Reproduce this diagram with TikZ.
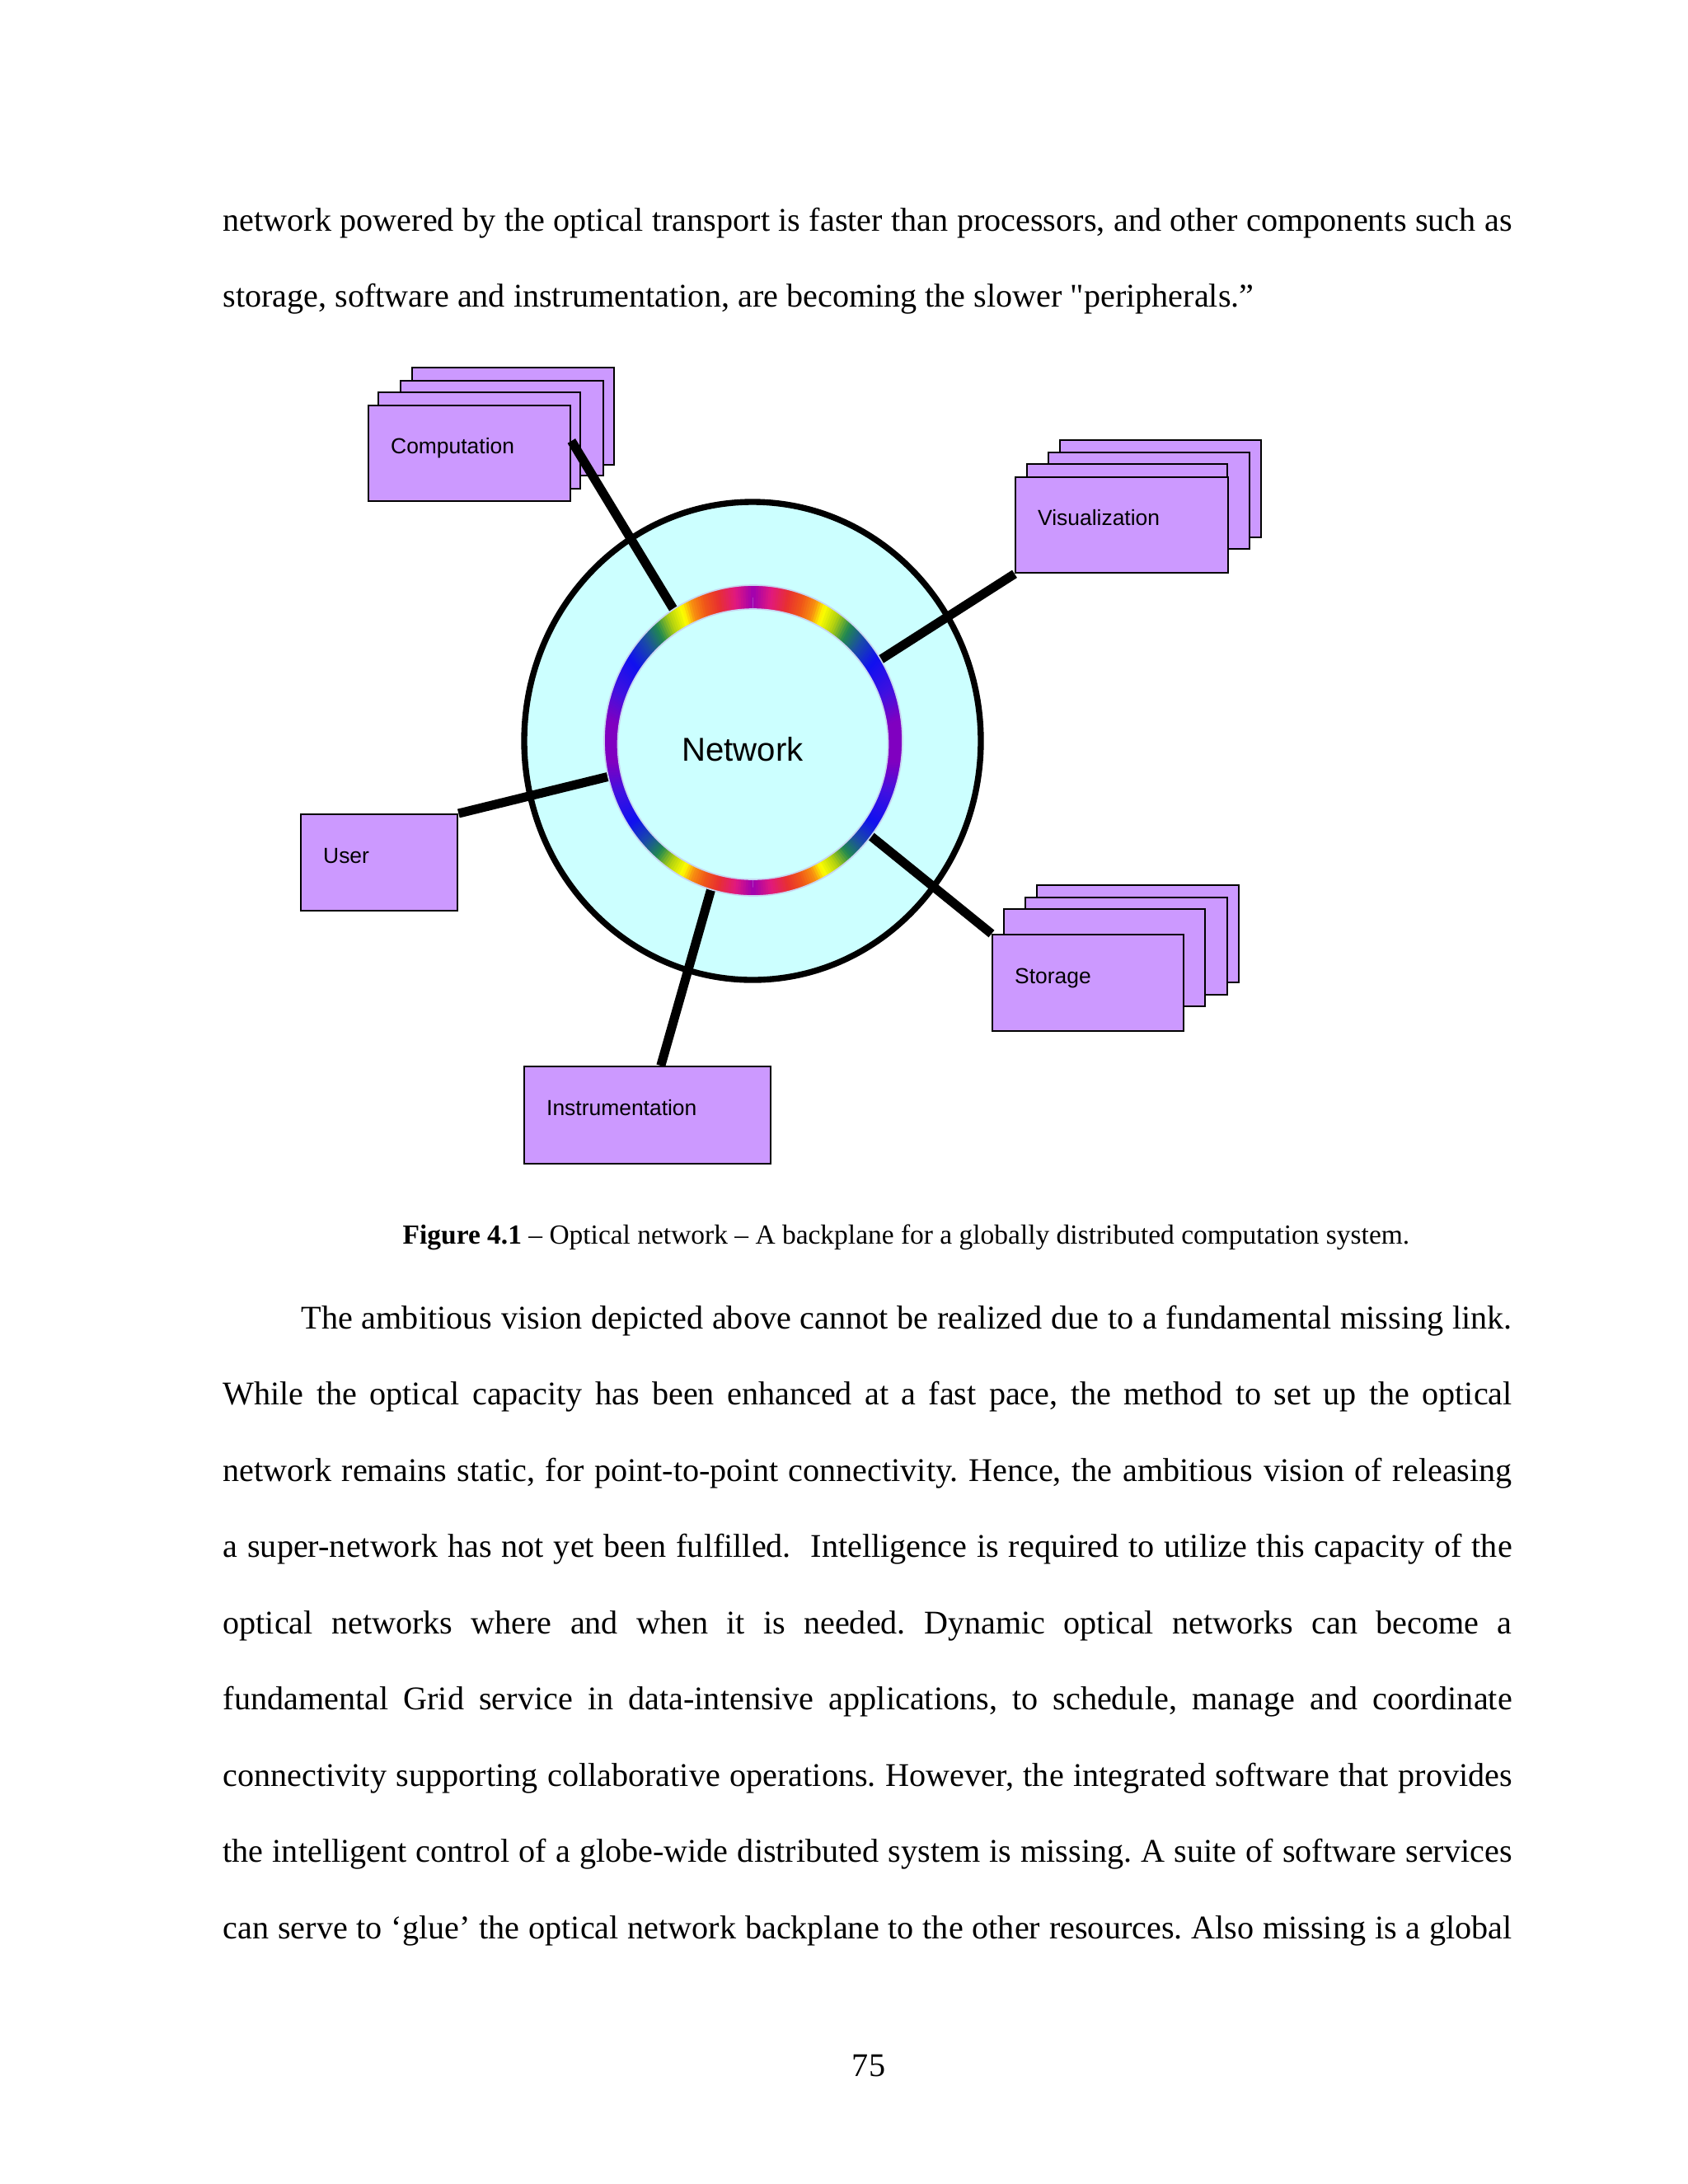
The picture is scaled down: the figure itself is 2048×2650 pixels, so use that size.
\documentclass[tikz,border=0pt]{standalone}
\usepackage{fontspec}
\setmainfont{Liberation Serif}
\newfontfamily\rawserif{Liberation Serif}[Ligatures=TeXOff]
\newfontfamily\diagfont{Liberation Sans}
\usepackage{xcolor}
\usepackage{tikz}
\usetikzlibrary{positioning,calc}
\frenchspacing

\newlength\px
\setlength\px{0.29883pt}

\definecolor{netcyan}{HTML}{CCFFFF}
\definecolor{boxlilac}{HTML}{CC99FF}
\definecolor{ringedge}{HTML}{C8D4F0}
% rainbow stops, from the top of the ring to its side
\definecolor{rb0}{HTML}{A000B0}
\definecolor{rb1}{HTML}{E01880}
\definecolor{rb2}{HTML}{E83030}
\definecolor{rb3}{HTML}{F05818}
\definecolor{rb4}{HTML}{F89010}
\definecolor{rb5}{HTML}{FFFF00}
\definecolor{rb6}{HTML}{B0D010}
\definecolor{rb7}{HTML}{208850}
\definecolor{rb8}{HTML}{1A4AA8}
\definecolor{rb9}{HTML}{1010F0}
\definecolor{rb10}{HTML}{4010E0}
\definecolor{rb11}{HTML}{8000C0}

\begin{document}
\begin{tikzpicture}[
    x=0.29883pt, y=-0.29883pt,
    resource/.style={draw, line width=0.7pt, fill=boxlilac, inner xsep=27\px, inner ysep=0pt,
        text height=58\px, text depth=58\px, align=left, anchor=north west,
        font=\diagfont\fontsize{7.9}{9}\selectfont},
    backbox/.style={draw, line width=0.7pt, fill=boxlilac},
    link/.style={line width=3.3pt},
    netlabel/.style={font=\diagfont\fontsize{12}{14}\selectfont, inner sep=0pt},
    bodyline/.style={anchor=base west, inner sep=0pt, font=\fontsize{12}{14}\selectfont},
    captext/.style={anchor=base west, inner sep=0pt, font=\fontsize{10}{12}\selectfont}
]
    \fill[white] (0,0) rectangle (2048,2650);
    \useasboundingbox (0,0) rectangle (2048,2650);

    % Text above the figure
    \node[bodyline] (top1) at (270,280) {\makebox[1564\px][s]{network powered by the optical transport is faster than processors, and other components such as}};
    \node[bodyline] (top2) at (270,372) {storage, software and instrumentation, are becoming the slower {\rawserif"}peripherals.”};

    % Outer circle
    \draw[line width=2.2pt, fill=netcyan] (913,899) ellipse [x radius=277, y radius=290];
    \coordinate (hub) at (914,899);

    % Stacked copies behind the front boxes
    \draw[backbox] (500,446) rectangle (745,564);
    \draw[backbox] (486,462) rectangle (732,577);
    \draw[backbox] (459,476) rectangle (704,593);

    \draw[backbox] (1286,534) rectangle (1530,652);
    \draw[backbox] (1272,549) rectangle (1516,666);
    \draw[backbox] (1246,563) rectangle (1489,680);

    \draw[backbox] (1258,1074) rectangle (1503,1192);
    \draw[backbox] (1244,1089) rectangle (1489,1207);
    \draw[backbox] (1218,1103) rectangle (1462,1221);

    % Resources
    \node[resource, text width=191\px] (comp) at (446,491) {Computation};
    \node[resource, text width=204\px] (vis) at (1231,578) {Visualization};
    \node[resource, text width=178\px, text height=59\px] (stor) at (1203,1133) {Storage};
    \node[resource, text width=136\px, text height=59\px] (user) at (364,987) {User};
    \node[resource, text width=245\px, text height=59\px, text depth=59\px] (instr) at (635,1293) {Instrumentation};

    % Links to the network
    \draw[link] (comp.7.5) -- (hub);
    \draw[link] (vis.south west) -- (hub);
    \draw[link] (user.north east) -- (hub);
    \draw[link] (stor.north west) -- (hub);
    \draw[link] (instr.75) -- (hub);

    % Rainbow ring
    \foreach \angA/\angB/\colA/\colB in {0/7/rb0/rb1, 7/14/rb1/rb2, 14/20/rb2/rb3, 20/25/rb3/rb4,
        25/29/rb4/rb5, 29/35/rb5/rb6, 35/41/rb6/rb7, 41/48/rb7/rb8, 48/57/rb8/rb9,
        57/70/rb9/rb10, 70/82/rb10/rb11, 82/90/rb11/rb11}{
        \pgfmathtruncatemacro\nseg{\angB-\angA}
        \foreach \stp in {1,...,\nseg}{
            \pgfmathsetmacro\aLo{\angA+\stp-1}
            \pgfmathsetmacro\aHi{\angA+\stp+0.4}
            \pgfmathtruncatemacro\pc{100*(\stp-0.5)/\nseg}
            \foreach \sx/\sy in {1/1,1/-1,-1/1,-1/-1}{
                \fill[\colB!\pc!\colA]
                    ({914+\sx*181*sin(\aLo)},{898.5-\sy*188.5*cos(\aLo)})
                 -- ({914+\sx*181*sin(\aHi)},{898.5-\sy*188.5*cos(\aHi)})
                 -- ({913.5+\sx*164*sin(\aHi)},{903-\sy*164*cos(\aHi)})
                 -- ({913.5+\sx*164*sin(\aLo)},{903-\sy*164*cos(\aLo)}) -- cycle;
            }
        }
    }
    \draw[ringedge, line width=0.5pt] (914,898.5) ellipse [x radius=181, y radius=188.5];
    \fill[netcyan] (913.5,903) circle [radius=164];
    \draw[ringedge, line width=0.5pt] (913.5,903) circle [radius=164];
    \node[netlabel, anchor=base] (net) at (901,923) {Network};

    % Caption
    \node[captext] (cap) at (488,1509) {\textbf{Figure 4.1} – Optical network – A backplane for a globally distributed computation system.};

    % Text below the figure
    \node[bodyline] (par1) at (365,1612) {\makebox[1469\px][s]{The ambitious vision depicted above cannot be realized due to a fundamental missing link.}};
    \node[bodyline] (par2) at (270,1704.5) {\makebox[1564\px][s]{While the optical capacity has been enhanced at a fast pace, the method to set up the optical}};
    \node[bodyline] (par3) at (270,1797) {\makebox[1564\px][s]{network remains static, for point-to-point connectivity. Hence, the ambitious vision of releasing}};
    \node[bodyline] (par4) at (270,1889.5) {\makebox[1564\px][s]{a super-network has not yet been fulfilled.\ \ Intelligence is required to utilize this capacity of the}};
    \node[bodyline] (par5) at (270,1982) {\makebox[1564\px][s]{optical networks where and when it is needed. Dynamic optical networks can become a}};
    \node[bodyline] (par6) at (270,2074.5) {\makebox[1564\px][s]{fundamental Grid service in data-intensive applications, to schedule, manage and coordinate}};
    \node[bodyline] (par7) at (270,2167) {\makebox[1564\px][s]{connectivity supporting collaborative operations. However, the integrated software that provides}};
    \node[bodyline] (par8) at (270,2259.5) {\makebox[1564\px][s]{the intelligent control of a globe-wide distributed system is missing. A suite of software services}};
    \node[bodyline] (par9) at (270,2352) {\makebox[1564\px][s]{can serve to ‘glue’ the optical network backplane to the other resources. Also missing is a global}};

    % Page number
    \node[bodyline, anchor=base] (pgnum) at (1054,2519) {75};
\end{tikzpicture}
\end{document}
